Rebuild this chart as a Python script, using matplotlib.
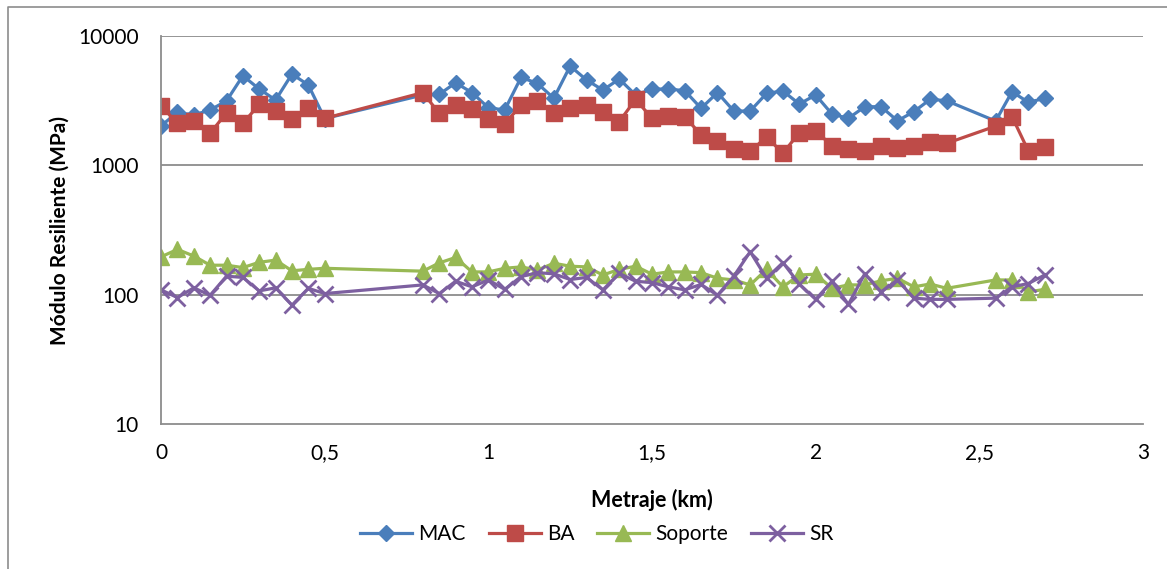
import matplotlib
matplotlib.use("Agg")
import matplotlib.pyplot as plt
from matplotlib.lines import Line2D
from matplotlib.ticker import FixedLocator, FuncFormatter

plt.rcParams["font.family"] = ["Lato", "DejaVu Sans"]

# metraje (km), with the two gaps in the survey
km = [0.0, 0.05, 0.1, 0.15, 0.2, 0.25, 0.3, 0.35, 0.4, 0.45, 0.5,
      0.8, 0.85, 0.9, 0.95, 1.0, 1.05, 1.1, 1.15, 1.2, 1.25, 1.3, 1.35,
      1.4, 1.45, 1.5, 1.55, 1.6, 1.65, 1.7, 1.75, 1.8, 1.85, 1.9, 1.95,
      2.0, 2.05, 2.1, 2.15, 2.2, 2.25, 2.3, 2.35, 2.4,
      2.55, 2.6, 2.65, 2.7]

mac = [2020, 2570, 2450, 2680, 3150, 4930, 3890, 3200, 5080, 4180, 2300,
       3500, 3540, 4350, 3650, 2790, 2680, 4790, 4300, 3300, 5860, 4570, 3820,
       4650, 3500, 3890, 3890, 3780, 2760, 3650, 2630, 2630, 3600, 3760, 2980,
       3500, 2490, 2310, 2840, 2840, 2210, 2600, 3240, 3160,
       2200, 3710, 3070, 3300]

ba = [2890, 2110, 2200, 1770, 2550, 2110, 2960, 2630, 2280, 2790, 2310,
      3650, 2520, 2930, 2720, 2280, 2090, 2930, 3150, 2520, 2790, 2930, 2600,
      2180, 3240, 2310, 2410, 2380, 1720, 1540, 1340, 1280, 1660, 1240, 1790,
      1840, 1420, 1330, 1280, 1410, 1370, 1420, 1520, 1480,
      2010, 2380, 1290, 1390]

soporte = [196, 224, 199, 169, 169, 162, 178, 185, 153, 157, 160,
           152, 176, 194, 150, 150, 160, 164, 155, 175, 166, 164, 142,
           157, 166, 144, 150, 150, 148, 134, 130, 119, 157, 115, 142,
           144, 112, 119, 119, 128, 134, 115, 121, 112,
           130, 130, 105, 110]

sr = [109, 95, 113, 99, 139, 136, 107, 113, 83, 112, 102,
      119, 102, 127, 115, 130, 110, 138, 148, 145, 131, 136, 109,
      146, 127, 124, 115, 109, 120, 99, 139, 215, 134, 177, 121,
      92, 127, 84, 145, 105, 130, 94, 92, 92,
      94, 115, 122, 142]

x_ticks = [0, 0.5, 1, 1.5, 2, 2.5, 3]
y_ticks = [10, 100, 1000, 10000]

fig = plt.figure(figsize=(11.67, 5.69), dpi=100)
ax = fig.add_axes([0.138, 0.2548, 0.8414, 0.6819])

grid_col = "#8c8c8c"
lw = 2.3
series = []
series += ax.plot(km, mac, color="#4a7ebb", lw=lw, marker="D", ms=8.5, label="MAC")
series += ax.plot(km, ba, color="#be4b48", lw=lw, marker="s", ms=11, label="BA")
series += ax.plot(km, soporte, color="#98b954", lw=lw, marker="^", ms=11, label="Soporte")
series += ax.plot(km, sr, color="#7d60a0", lw=lw, marker="x", ms=11, mew=2.0, label="SR")

ax.set_yscale("log")
ax.set_ylim(10, 10000)
ax.set_xlim(0, 3)
ax.xaxis.set_major_locator(FixedLocator(x_ticks))
ax.xaxis.set_major_formatter(FuncFormatter(lambda v, p: f"{v:g}".replace(".", ",")))
ax.yaxis.set_major_locator(FixedLocator(y_ticks))
ax.yaxis.set_major_formatter(FuncFormatter(lambda v, p: f"{v:.0f}"))
ax.yaxis.set_minor_locator(FixedLocator([]))
ax.tick_params(axis="both", length=0, labelsize=15, colors="black")
ax.tick_params(axis="x", pad=14)
ax.tick_params(axis="y", pad=16)

for yv in y_ticks[1:]:
    ax.axhline(yv, color=grid_col, lw=1.3, zorder=0)
for side in ["top", "right"]:
    ax.spines[side].set_visible(False)
for side in ["left", "bottom"]:
    ax.spines[side].set_color(grid_col)
    ax.spines[side].set_linewidth(1.3)

ax.set_xlabel("Metraje (km)", fontsize=15.5, fontweight="bold", labelpad=18)
ax.set_ylabel("Módulo Resiliente (MPa)", fontsize=15, fontweight="bold", labelpad=6)

fig.legend(handles=series, loc="center", bbox_to_anchor=(597 / 1167, 1 - 534 / 569),
           ncol=4, frameon=False, fontsize=15, handlelength=2.5, handletextpad=0.3,
           columnspacing=1.1)

# chart area border (only left and top visible in the crop)
fig.add_artist(Line2D([8 / 1167, 8 / 1167, 1.0], [0.0, 1 - 7 / 569, 1 - 7 / 569],
                      transform=fig.transFigure, color="#8c8c8c", lw=1.2))

fig.savefig("out.png", dpi=100)
